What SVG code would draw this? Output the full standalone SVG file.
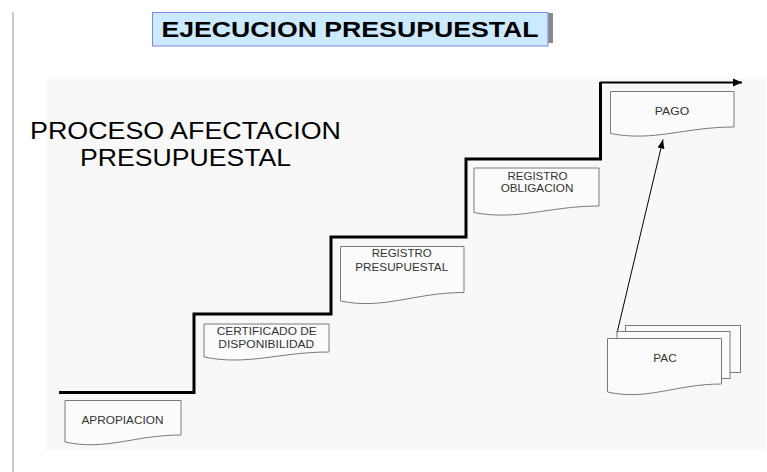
<svg xmlns="http://www.w3.org/2000/svg" width="767" height="472" viewBox="0 0 767 472">
<style>
.doc{fill:#fbfbfb;stroke:#7a7a7a;stroke-width:1}
.lbl{font-family:"Liberation Sans",Arial,sans-serif;font-size:11px;fill:#333;text-anchor:middle}
.big{font-family:"Liberation Sans",Arial,sans-serif;font-size:24px;fill:#000;text-anchor:middle}
.stair{fill:none;stroke:#000;stroke-width:3}
</style>
<defs>
<marker id="ah" markerWidth="10" markerHeight="10" refX="9" refY="5" orient="auto" markerUnits="userSpaceOnUse">
<path d="M0,1 L9,5 L0,9 Z" fill="#000"/>
</marker>
<marker id="ah2" markerWidth="10" markerHeight="10" refX="9" refY="5" orient="auto" markerUnits="userSpaceOnUse">
<path d="M0,1.5 L9,5 L0,8.5 Z" fill="#000"/>
</marker>
</defs>
<rect width="767" height="472" fill="#fff"/>
<line x1="13" y1="12" x2="13" y2="472" stroke="#cccccc" stroke-width="2"/>
<rect x="46" y="79" width="720" height="371" fill="#f8f8f8"/>

<g id="title">
<rect x="548" y="13" width="5" height="30" fill="#8a8a8a"/>
<rect x="152.5" y="12.5" width="395.5" height="33.5" fill="#cceaff" stroke="#8585ee" stroke-width="1"/>
<text x="350" y="37.3" font-family="Liberation Sans, Arial, sans-serif" font-weight="bold" font-size="22" text-anchor="middle" textLength="377" lengthAdjust="spacingAndGlyphs" fill="#000">EJECUCION PRESUPUESTAL</text>
</g>

<g id="subtitle">
<text class="big" x="185.5" y="139" textLength="311" lengthAdjust="spacingAndGlyphs">PROCESO AFECTACION</text>
<text class="big" x="185.5" y="166" textLength="211" lengthAdjust="spacingAndGlyphs">PRESUPUESTAL</text>
</g>

<g id="connectors">
<path class="stair" d="M59,392.5 H194 V314 H331 V237 H466 V159 H600.5 V82"/>
<line x1="600" y1="82.5" x2="742" y2="82.5" stroke="#000" stroke-width="2" marker-end="url(#ah)"/>
<line x1="617" y1="333" x2="663" y2="139.5" stroke="#000" stroke-width="1" marker-end="url(#ah2)"/>
</g>

<g id="apropiacion">
<path class="doc" d="M65,400.5 H181 V435 C134.6,435 105.6,451 65,442 Z"/>
<text class="lbl" x="122.5" y="424" textLength="82" lengthAdjust="spacingAndGlyphs">APROPIACION</text>
</g>

<g id="certificado">
<path class="doc" d="M204,324 H329 V352 C279,352 248,366 204,357 Z"/>
<text class="lbl" x="266.7" y="335" textLength="100" lengthAdjust="spacingAndGlyphs">CERTIFICADO DE</text>
<text class="lbl" x="266.3" y="348" textLength="96" lengthAdjust="spacingAndGlyphs">DISPONIBILIDAD</text>
</g>

<g id="registro-presupuestal">
<path class="doc" d="M340.5,246.5 H464 V292.5 C414.5,292.5 384,310 340.5,301 Z"/>
<text class="lbl" x="401.7" y="257.3" textLength="60" lengthAdjust="spacingAndGlyphs">REGISTRO</text>
<text class="lbl" x="401.7" y="270.7" textLength="93" lengthAdjust="spacingAndGlyphs">PRESUPUESTAL</text>
</g>

<g id="registro-obligacion">
<path class="doc" d="M474,168 H599 V206 C549,206 518,221 474,212.5 Z"/>
<text class="lbl" x="537.5" y="180" textLength="60" lengthAdjust="spacingAndGlyphs">REGISTRO</text>
<text class="lbl" x="537" y="192" textLength="72.7" lengthAdjust="spacingAndGlyphs">OBLIGACION</text>
</g>

<g id="pago">
<path class="doc" d="M610.5,91.5 H734 V127 C684.5,127 654,142 610.5,133.5 Z"/>
<text class="lbl" x="672" y="115" textLength="34.3" lengthAdjust="spacingAndGlyphs">PAGO</text>
</g>

<g id="pac">
<rect class="doc" x="625.5" y="325.5" width="115" height="47"/>
<rect class="doc" x="617" y="331.5" width="113" height="47"/>
<path class="doc" d="M607.5,338.5 H721.5 V384 C676,384 647,401 607.5,392 Z"/>
<text class="lbl" x="665" y="361.7" textLength="23.3" lengthAdjust="spacingAndGlyphs">PAC</text>
</g>
</svg>
